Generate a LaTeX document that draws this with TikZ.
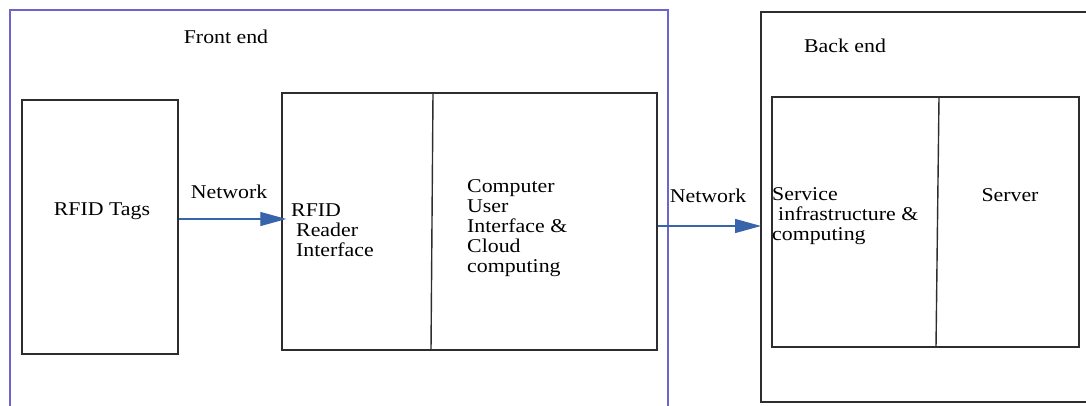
\documentclass[tikz,border=0pt]{standalone}
\usepackage{fontspec}
\setmainfont{Liberation Serif}[FakeStretch=1.12]
\usetikzlibrary{arrows.meta}
\definecolor{framecol}{RGB}{110,100,205}
\definecolor{netcol}{RGB}{55,100,170}
\definecolor{boxcol}{RGB}{45,45,45}
\tikzset{
 blk/.style={draw=boxcol,line width=1.4pt,inner sep=0pt},
 lbl/.style={inner sep=0pt,font=\fontsize{19.5}{20}\selectfont},
 net/.style={netcol,line width=1.3pt,-{Triangle[length=26pt,width=14pt]}}
}
\begin{document}
\begin{tikzpicture}[x=1pt,y=-1pt]
 \useasboundingbox (0,0) rectangle (1086,405);
 \draw[framecol,line width=1.3pt](10,407)--(10,10)--(668,10)--(668,407);
 \draw[boxcol,line width=1.4pt](1088,12)--(761,12)--(761,402)--(1088,402);
 \node[lbl] (front) at (226,37) {Front end};
 \node[lbl] (back) at (845,46) {Back end};
 \node[blk,minimum width=156pt,minimum height=254pt] (tags) at (100,227) {};
 \node[lbl] (tagstxt) at (102,211) {RFID Tags};
 \node[blk,minimum width=375pt,minimum height=257pt] (reader) at (469.5,221.5) {};
 \draw[boxcol,line width=1.4pt](433,93)--(431,350);
 \node[lbl,anchor=west,align=left] (readertxt) at (291,230) {RFID\\\hspace*{5pt}Reader\\\hspace*{5pt}Interface};
 \node[lbl,anchor=west,align=left] (comptxt) at (467,228) {Computer\\User\\Interface \&\\Cloud\\computing};
 \node[blk,minimum width=307pt,minimum height=250pt] (infra) at (925.5,222) {};
 \draw[boxcol,line width=1.4pt](939,97)--(936,347);
 \node[lbl,anchor=west,align=left] (infratxt) at (772,216) {Service\\\hspace*{6pt}infrastructure \&\\computing};
 \node[lbl] (server) at (1010,195) {Server};
 \coordinate (backin) at (761,226);
 \draw[net,shorten >=-5pt] ([yshift=8pt]tags.east) -- ([yshift=8pt]tags.east -| reader.west);
 \node[lbl] (net1) at (229,192) {Network};
 \draw[net] (reader.east |- backin) -- (backin);
 \node[lbl] (net2) at (708,196) {Network};
\end{tikzpicture}
\end{document}
